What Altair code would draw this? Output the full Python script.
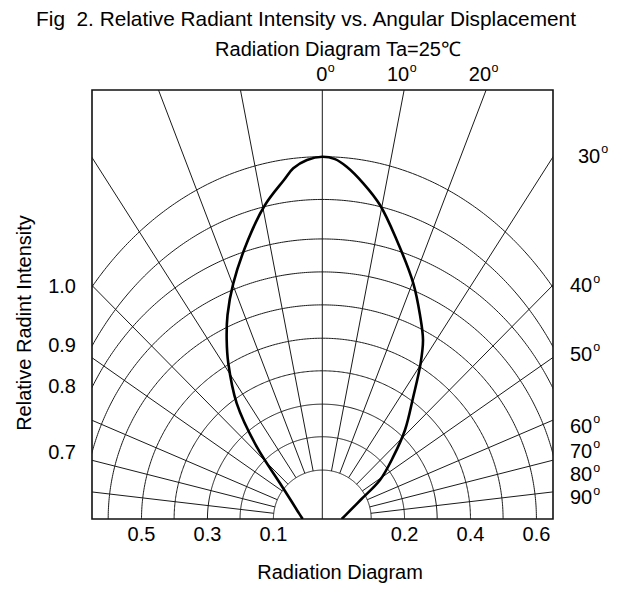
import altair as alt
import numpy as np
import pandas as pd

# ---------------- data ----------------
# grid rings: relative radius along the 0 deg axis and at the sides
ring_top = [0.135, 0.227, 0.317, 0.409, 0.499, 0.591, 0.682, 0.773, 0.882, 1.0]
ring_side = [0.135, 0.227, 0.317, 0.409, 0.499, 0.591, 0.660, 0.720, 0.756, 0.828]
# spoke angles (deg from the vertical axis), mirrored on both sides
spoke_deg = [10.8, 20.9, 32.5, 44.6, 55.0, 66.8, 75.7, 83.3]

# radiation curve: angle (deg) and relative radius
curve_deg = [-90, -80, -72, -59.9, -49.83, -42.22, -36.49, -31.12, -28.11, -24.92,
             -20.69, -14.91, -10.34, -6.45, -4.73, -2.44, 0, 2.02, 3.96, 6.96,
             10.41, 14.93, 21.11, 25.59, 29.36, 32.3, 36.65, 42.9, 48.73, 55.95, 63.26,
             80, 90]
curve_rel = [0.0541, 0.062, 0.072, 0.0989, 0.1528, 0.2695, 0.3972, 0.502, 0.5601, 0.6209,
             0.6954, 0.797, 0.881, 0.9417, 0.9713, 0.9918, 1.0, 0.994, 0.9747, 0.9335,
             0.8812, 0.797, 0.6974, 0.6243, 0.5669, 0.5075, 0.4207, 0.3353, 0.2607, 0.1922,
             0.1196, 0.066, 0.0535]

# labels
top_deg_labels = ["0", "10", "20"]            # at spokes 0, 1, 2 (top edge)
right_deg_labels = ["30", "40", "50", "60", "70", "80", "90"]
right_label_y = [1.000, 0.642, 0.453, 0.255, 0.186, 0.121, 0.057]
left_labels = ["1.0", "0.9", "0.8", "0.7"]    # rings 10, 9, 8, 7 at the left edge
bottom_labels = ["0.5", "0.3", "0.1", "0.2", "0.4", "0.6"]
bottom_side = [-1, -1, -1, 1, 1, 1]

title = "Fig\u00a0 2. Relative Radiant Intensity vs. Angular Displacement"
subtitle = "Radiation Diagram Ta=25\u2103"
x_title = "Radiation Diagram"
y_title = "Relative Radint Intensity"

# ---------------- geometry helpers ----------------
PX = 362.3                      # pixels per unit radius
XMIN, XMAX = -230.3 / PX, 230.7 / PX
YMAX = 429.0 / PX
FONT = "Liberation Sans"
LBL = 20

xs = alt.Scale(domain=[XMIN, XMAX], nice=False, zero=False)
ys = alt.Scale(domain=[0, YMAX], nice=False, zero=False)

def enc(ch, **extra):
    return ch.encode(
        x=alt.X("x:Q", scale=xs, axis=None),
        y=alt.Y("y:Q", scale=ys, axis=None),
        **extra,
    )

# rings
rows = []
for i, (b, a) in enumerate(zip(ring_top, ring_side)):
    for t in np.linspace(-90, 90, 361):
        th = np.radians(t)
        rows.append(dict(ring=i, t=t, x=a * np.sin(th), y=b * np.cos(th)))
rings_df = pd.DataFrame(rows)

# spokes
rows = []
sid = 0
for d in spoke_deg:
    for s in (-1, 1):
        th = np.radians(s * d)
        for r in (ring_top[0], 2.0):
            rows.append(dict(sp=sid, o=r, x=r * np.sin(th), y=r * np.cos(th)))
        sid += 1
for r in (0.0, 2.0):
    rows.append(dict(sp=sid, o=r, x=0.0, y=r))
spokes_df = pd.DataFrame(rows)

# curve
th = np.radians(curve_deg)
curve_df = pd.DataFrame(dict(
    i=np.arange(len(curve_deg)),
    x=np.array(curve_rel) * np.sin(th),
    y=np.array(curve_rel) * np.cos(th),
))

grid_rings = enc(
    alt.Chart(rings_df).mark_line(color="#1a1a1a", strokeWidth=1, clip=True),
    detail="ring:N", order="t:Q",
)
grid_spokes = enc(
    alt.Chart(spokes_df).mark_line(color="#1a1a1a", strokeWidth=1, clip=True),
    detail="sp:N", order="o:Q",
)
curve = enc(
    alt.Chart(curve_df).mark_line(color="black", strokeWidth=2.6,
                                  interpolate="catmull-rom", clip=True),
    order="i:Q",
)

def text_layer(df, size=LBL, **kw):
    return enc(
        alt.Chart(df).mark_text(font=FONT, fontSize=size, color="black", **kw),
        text="t:N",
    )

def px_x(p):
    return (p - 322.3) / PX

def px_y(p):
    return (519.0 - p) / PX

DIG = 0.556 * LBL / PX          # width of one digit in units

# top degree labels
top_x = [0.0] + [YMAX * np.tan(np.radians(d)) for d in spoke_deg[:2]]
top_num = pd.DataFrame(dict(t=top_deg_labels, x=[v + 5 / PX for v in top_x],
                            y=[px_y(75)] * 3))
top_o = pd.DataFrame(dict(t=["o"] * 3, x=[v + 5.5 / PX for v in top_x],
                          y=[px_y(68)] * 3))

# right degree labels
rx = [px_x(578)] + [px_x(570)] * 6
right_num = pd.DataFrame(dict(t=right_deg_labels, x=rx, y=right_label_y))
right_o = pd.DataFrame(dict(t=["o"] * 7, x=[v + 2 * DIG + 1 / PX for v in rx],
                            y=[v + 7.5 / PX for v in right_label_y]))

# left labels at ring / left-edge crossings
left_y = []
for lab in left_labels:
    k = int(round(float(lab) * 10)) - 1
    a, b = ring_side[k], ring_top[k]
    left_y.append(b * np.sqrt(max(0.0, 1 - (XMIN / a) ** 2)))
left_df = pd.DataFrame(dict(t=left_labels, x=[px_x(76)] * 4, y=left_y))

# bottom labels at ring radii
bx = [s * ring_top[int(round(float(l) * 10)) - 1] for l, s in zip(bottom_labels, bottom_side)]
bottom_df = pd.DataFrame(dict(t=bottom_labels, x=bx, y=[px_y(535)] * 6))

title_df = pd.DataFrame(dict(t=[title], x=[px_x(306)], y=[px_y(20)]))
sub_df = pd.DataFrame(dict(t=[subtitle], x=[px_x(338)], y=[px_y(50)]))
xt_df = pd.DataFrame(dict(t=[x_title], x=[px_x(340)], y=[px_y(573)]))
yt_df = pd.DataFrame(dict(t=[y_title], x=[px_x(25)], y=[px_y(323)]))

layers = [
    grid_rings, grid_spokes, curve,
    text_layer(top_num, align="right", baseline="middle"),
    text_layer(top_o, size=12.5, align="left", baseline="middle"),
    text_layer(right_num, align="left", baseline="middle"),
    text_layer(right_o, size=12.5, align="left", baseline="middle"),
    text_layer(left_df, align="right", baseline="middle"),
    text_layer(bottom_df, align="center", baseline="middle"),
    text_layer(title_df, size=20.8, align="center", baseline="middle"),
    text_layer(sub_df, size=LBL, align="center", baseline="middle"),
    text_layer(xt_df, size=LBL, align="center", baseline="middle"),
    text_layer(yt_df, size=LBL, align="center", baseline="middle", angle=270),
]

chart = alt.layer(*layers).properties(
    width=461, height=429,
    autosize=alt.AutoSizeParams(type="none"),
    padding={"left": 84, "top": 82, "right": 56, "bottom": 65},
    background="white",
).configure_view(stroke="#111111", strokeWidth=1.6)

chart.save("out.html", embed_options={"renderer": "svg", "actions": False})
